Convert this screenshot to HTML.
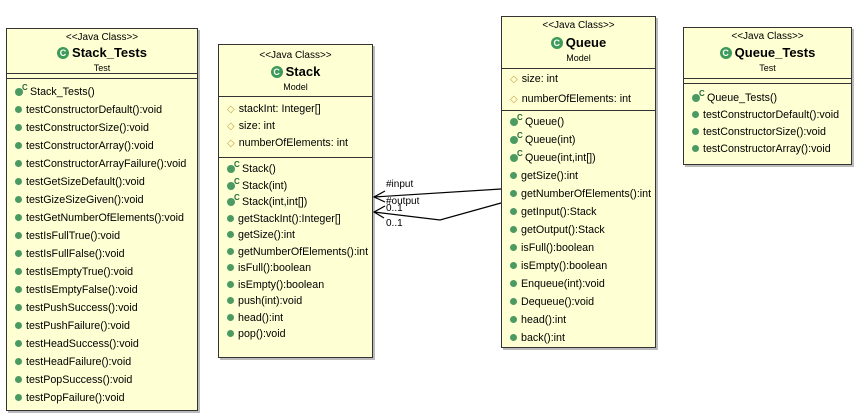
<!DOCTYPE html>
<html><head><meta charset="utf-8"><style>
body{margin:0;width:859px;height:420px;background:#fff;position:relative;overflow:hidden;font-family:"Liberation Sans",sans-serif;color:#000}
.box{position:absolute;background:#ffffd4;border:1px solid #333;box-shadow:2px 2px 0 #bbb;box-sizing:border-box}
.t{position:absolute;left:0;right:0;text-align:center;white-space:nowrap}
.st{font-size:10px}
.nm{font-size:13px;font-weight:bold}
.pk{font-size:9px}
.sep{position:absolute;left:0;right:0;border-top:1px solid #333}
.r{position:absolute;left:8px;font-size:10.7px;white-space:nowrap;line-height:14px}
.m::before{content:"";display:inline-block;width:7px;height:7px;border-radius:50%;background:#4a9a62;margin-right:4px;vertical-align:0}
.c::before{content:"";display:inline-block;width:8px;height:8px;border-radius:50%;background:#4a9a62;margin-right:7px;vertical-align:-1px}
.c i{position:absolute;left:7px;top:-4px;font-size:8px;font-style:normal;font-weight:bold;color:#2a6a3a}
.a b{font-weight:normal;color:#c9a040;font-size:10px;margin-right:4px}
.g{display:inline-block;width:12px;height:12px;border-radius:50%;background:#3d9a58;color:#fff;font-size:9px;line-height:12px;text-align:center;vertical-align:1px;margin-right:3px}
.lbl{position:absolute;font-size:10px;white-space:nowrap}
</style></head><body>

<div class="box" style="left:6px;top:28px;width:192px;height:383px">
<div class="t st" style="top:3px">&lt;&lt;Java Class&gt;&gt;</div>
<div class="t nm" style="top:16px"><span class="g">C</span>Stack_Tests</div>
<div class="t pk" style="top:34px">Test</div>
<div class="sep" style="top:44px"></div><div class="sep" style="top:49px"></div>
<div class="r c" style="top:56px"><i>C</i>Stack_Tests()</div>
<div class="r m" style="top:74px">testConstructorDefault():void</div>
<div class="r m" style="top:92px">testConstructorSize():void</div>
<div class="r m" style="top:110px">testConstructorArray():void</div>
<div class="r m" style="top:128px">testConstructorArrayFailure():void</div>
<div class="r m" style="top:146px">testGetSizeDefault():void</div>
<div class="r m" style="top:164px">testGizeSizeGiven():void</div>
<div class="r m" style="top:182px">testGetNumberOfElements():void</div>
<div class="r m" style="top:200px">testIsFullTrue():void</div>
<div class="r m" style="top:218px">testIsFullFalse():void</div>
<div class="r m" style="top:236px">testIsEmptyTrue():void</div>
<div class="r m" style="top:254px">testIsEmptyFalse():void</div>
<div class="r m" style="top:272px">testPushSuccess():void</div>
<div class="r m" style="top:290px">testPushFailure():void</div>
<div class="r m" style="top:308px">testHeadSuccess():void</div>
<div class="r m" style="top:326px">testHeadFailure():void</div>
<div class="r m" style="top:344px">testPopSuccess():void</div>
<div class="r m" style="top:362px">testPopFailure():void</div>
</div>

<div class="box" style="left:218px;top:44px;width:155px;height:314px">
<div class="t st" style="top:5px">&lt;&lt;Java Class&gt;&gt;</div>
<div class="t nm" style="top:19px"><span class="g">C</span>Stack</div>
<div class="t pk" style="top:37px">Model</div>
<div class="sep" style="top:51px"></div>
<div class="r a" style="top:57px"><b>◇</b>stackInt: Integer[]</div>
<div class="r a" style="top:74px"><b>◇</b>size: int</div>
<div class="r a" style="top:91px"><b>◇</b>numberOfElements: int</div>
<div class="sep" style="top:112px"></div>
<div class="r c" style="top:117px"><i>C</i>Stack()</div>
<div class="r c" style="top:133.5px"><i>C</i>Stack(int)</div>
<div class="r c" style="top:150px"><i>C</i>Stack(int,int[])</div>
<div class="r m" style="top:166.5px">getStackInt():Integer[]</div>
<div class="r m" style="top:183px">getSize():int</div>
<div class="r m" style="top:199.5px">getNumberOfElements():int</div>
<div class="r m" style="top:216px">isFull():boolean</div>
<div class="r m" style="top:232.5px">isEmpty():boolean</div>
<div class="r m" style="top:249px">push(int):void</div>
<div class="r m" style="top:265.5px">head():int</div>
<div class="r m" style="top:282px">pop():void</div>
</div>

<div class="box" style="left:501px;top:16px;width:155px;height:332px">
<div class="t st" style="top:3px">&lt;&lt;Java Class&gt;&gt;</div>
<div class="t nm" style="top:18px"><span class="g">C</span>Queue</div>
<div class="t pk" style="top:36px">Model</div>
<div class="sep" style="top:51px"></div>
<div class="r a" style="top:55px"><b>◇</b>size: int</div>
<div class="r a" style="top:75px"><b>◇</b>numberOfElements: int</div>
<div class="sep" style="top:93px"></div>
<div class="r c" style="top:98px"><i>C</i>Queue()</div>
<div class="r c" style="top:116px"><i>C</i>Queue(int)</div>
<div class="r c" style="top:134px"><i>C</i>Queue(int,int[])</div>
<div class="r m" style="top:152px">getSize():int</div>
<div class="r m" style="top:170px">getNumberOfElements():int</div>
<div class="r m" style="top:188px">getInput():Stack</div>
<div class="r m" style="top:206px">getOutput():Stack</div>
<div class="r m" style="top:224px">isFull():boolean</div>
<div class="r m" style="top:242px">isEmpty():boolean</div>
<div class="r m" style="top:260px">Enqueue(int):void</div>
<div class="r m" style="top:278px">Dequeue():void</div>
<div class="r m" style="top:296px">head():int</div>
<div class="r m" style="top:314px">back():int</div>
</div>

<div class="box" style="left:683px;top:27px;width:169px;height:138px">
<div class="t st" style="top:3px">&lt;&lt;Java Class&gt;&gt;</div>
<div class="t nm" style="top:17px"><span class="g">C</span>Queue_Tests</div>
<div class="t pk" style="top:35px">Test</div>
<div class="sep" style="top:50px"></div><div class="sep" style="top:55px"></div>
<div class="r c" style="top:63px"><i>C</i>Queue_Tests()</div>
<div class="r m" style="top:80px">testConstructorDefault():void</div>
<div class="r m" style="top:97px">testConstructorSize():void</div>
<div class="r m" style="top:114px">testConstructorArray():void</div>
</div>

<svg width="859" height="420" style="position:absolute;left:0;top:0">
<g stroke="#000" stroke-width="1.2" fill="none">
<polyline points="501,189 374,197"/>
<polyline points="385,191 374,197 385,202"/>
<polyline points="501,203 440,220 374,212"/>
<polyline points="385,206 374,212 384,218"/>
</g>
</svg>
<div class="lbl" style="left:386px;top:179px">#input</div>
<div class="lbl" style="left:386px;top:196px">#output</div>
<div class="lbl" style="left:386px;top:203px">0..1</div>
<div class="lbl" style="left:386px;top:218px">0..1</div>
</body></html>
